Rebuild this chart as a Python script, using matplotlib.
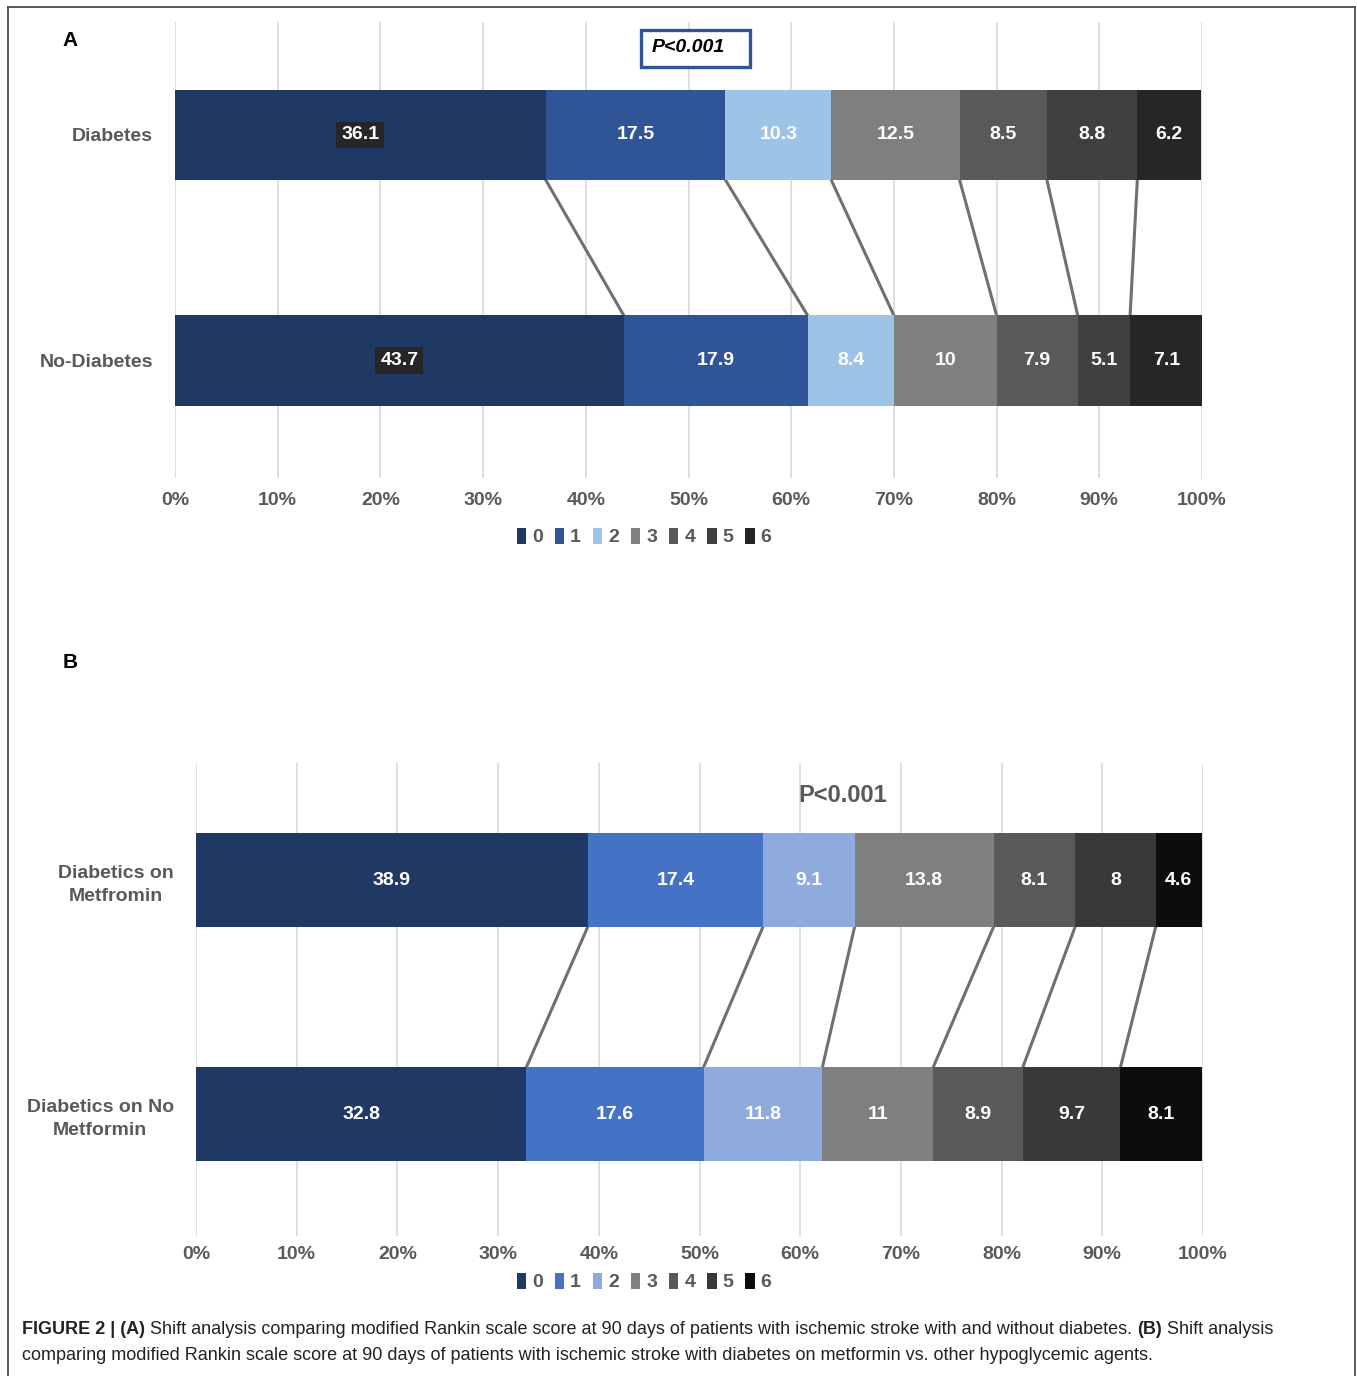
import matplotlib.pyplot as plt
from matplotlib.patches import Patch, Rectangle
from matplotlib.lines import Line2D

plt.rcParams["font.family"] = ["Liberation Sans Narrow", "Liberation Sans", "DejaVu Sans"]

scores = ["0", "1", "2", "3", "4", "5", "6"]
pct_ticks = list(range(0, 101, 10))

# panel A
groups_a = ["Diabetes", "No-Diabetes"]
diabetes = [36.1, 17.5, 10.3, 12.5, 8.5, 8.8, 6.2]
no_diabetes = [43.7, 17.9, 8.4, 10, 7.9, 5.1, 7.1]
colors_a = ["#203864", "#2F5597", "#9DC3E6", "#7F7F7F", "#595959", "#404040", "#262626"]

# panel B
groups_b = ["Diabetics on\nMetfromin", "Diabetics on No\nMetformin"]
metformin = [38.9, 17.4, 9.1, 13.8, 8.1, 8, 4.6]
no_metformin = [32.8, 17.6, 11.8, 11, 8.9, 9.7, 8.1]
colors_b = ["#203864", "#4472C4", "#8FAADC", "#7F7F7F", "#595959", "#3A3838", "#0D0D0D"]

GREY_TXT = "#595959"
W, H = 1357, 1376


def fx(px):
    return px / W


def fy(py):
    return 1 - py / H


def draw_shift(ax, labels, rows, colors, boxed=False, ypad=14, xpad=10):
    bar_h = 0.4
    lefts_all = []
    for i, row in enumerate(rows):
        left = 0
        lefts = []
        for j, v in enumerate(row):
            ax.barh(i, v, left=left, height=bar_h, color=colors[j], zorder=3)
            kw = {}
            if boxed and j == 0:
                kw["bbox"] = dict(boxstyle="square,pad=0.25", facecolor="#262626", edgecolor="none")
            ax.text(left + v / 2, i, f"{v:g}", ha="center", va="center",
                    color="white", fontsize=14, fontweight="bold", zorder=4, **kw)
            left += v
            lefts.append(left)
        lefts_all.append(lefts)

    # connector lines between cumulative boundaries
    for k in range(len(rows[0]) - 1):
        ax.plot([lefts_all[0][k], lefts_all[1][k]], [bar_h / 2, 1 - bar_h / 2],
                color="#707070", linewidth=2.2, zorder=2)

    ax.set_xlim(0, 100)
    ax.set_ylim(1.52, -0.5)
    ax.set_xticks(pct_ticks)
    ax.set_xticklabels([f"{t}%" for t in pct_ticks], color=GREY_TXT,
                       fontsize=14, fontweight="bold")
    ax.set_yticks([0, 1])
    ax.set_yticklabels(labels, color=GREY_TXT, fontsize=14, fontweight="bold",
                       multialignment="center", linespacing=1.45)
    ax.tick_params(axis="both", length=0)
    ax.tick_params(axis="x", pad=xpad)
    ax.tick_params(axis="y", pad=ypad)
    ax.grid(axis="x", color="#D9D9D9", linewidth=1.2, zorder=0)
    for s in ax.spines.values():
        s.set_visible(False)


def add_legend(fig, colors, cy):
    handles = [Patch(facecolor=c, edgecolor="none", label=s) for c, s in zip(colors, scores)]
    leg = fig.legend(handles=handles, loc="center", bbox_to_anchor=(fx(644), fy(cy)),
                     ncol=7, frameon=False, handlelength=0.5, handleheight=0.9,
                     handletextpad=0.3, columnspacing=0.6,
                     prop={"size": 14, "weight": "bold"})
    for t in leg.get_texts():
        t.set_color(GREY_TXT)


fig = plt.figure(figsize=(W / 100, H / 100), dpi=100)

ax_a = fig.add_axes([fx(175), fy(478), fx(1202) - fx(175), fy(22) - fy(478)])
draw_shift(ax_a, groups_a, [diabetes, no_diabetes], colors_a, boxed=True, ypad=16)
add_legend(fig, colors_a, 537)

ax_b = fig.add_axes([fx(196), fy(1236), fx(1203) - fx(196), fy(763) - fy(1236)])
draw_shift(ax_b, groups_b, [metformin, no_metformin], colors_b, ypad=16, xpad=7)
add_legend(fig, colors_b, 1282)

# panel letters and p-values
fig.text(fx(70), fy(41), "A", fontsize=15, fontweight="bold", ha="center", va="center",
         family=["Liberation Sans", "DejaVu Sans"])
fig.text(fx(70), fy(663), "B", fontsize=15, fontweight="bold", ha="center", va="center",
         family=["Liberation Sans", "DejaVu Sans"])
fig.add_artist(Rectangle((fx(641), fy(67)), fx(750) - fx(641), fy(30) - fy(67),
                         transform=fig.transFigure, facecolor="white",
                         edgecolor="#2F5597", linewidth=2.4))
fig.text(fx(688), fy(48), "P<0.001", fontsize=14, fontweight="bold", style="italic",
         ha="center", va="center")
fig.text(fx(843), fy(795), "P<0.001", fontsize=17, fontweight="bold", color=GREY_TXT,
         ha="center", va="center")

# outer frame of the figure
frame_kw = dict(color="#4D4D4D", linewidth=1.3, transform=fig.transFigure)
fig.add_artist(Line2D([fx(8), fx(1355)], [fy(7), fy(7)], **frame_kw))
fig.add_artist(Line2D([fx(8), fx(8)], [fy(7), 0], **frame_kw))
fig.add_artist(Line2D([fx(1355), fx(1355)], [fy(7), 0], **frame_kw))

# caption with bold parts
cap_font = ["Liberation Sans", "DejaVu Sans"]
line1 = [("FIGURE 2 | (A)", "bold"),
         (" Shift analysis comparing modified Rankin scale score at 90 days of patients with ischemic stroke with and without diabetes. ", "normal"),
         ("(B)", "bold"),
         (" Shift analysis", "normal")]
line2 = [("comparing modified Rankin scale score at 90 days of patients with ischemic stroke with diabetes on metformin vs. other hypoglycemic agents.", "normal")]

renderer = fig.canvas.get_renderer()
for parts, py in [(line1, 1330), (line2, 1355)]:
    x = fx(22)
    for txt, wt in parts:
        t = fig.text(x, fy(py), txt, fontsize=13, fontweight=wt, color="#222222",
                     ha="left", va="center", family=cap_font)
        bb = t.get_window_extent(renderer=renderer)
        x += bb.width / W

fig.savefig("out.png", dpi=100)
